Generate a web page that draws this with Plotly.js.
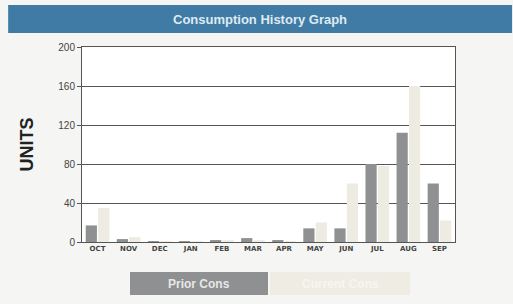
<!DOCTYPE html>
<html>
<head>
<meta charset="utf-8">
<script src="https://cdn.plot.ly/plotly-3.0.1.min.js"></script>
<style>html,body{margin:0;padding:0;background:#f5f5f3;}#chart{width:513px;height:304px;}</style>
</head>
<body>
<div id="chart"></div>
<script>
const months = ["OCT","NOV","DEC","JAN","FEB","MAR","APR","MAY","JUN","JUL","AUG","SEP"];
const priorCons = [17, 3, 1, 1, 2, 4, 2, 14, 14, 80, 112, 60];
const currentCons = [35, 5, 1, 1, 2, 2, 1, 20, 60, 78, 160, 22];
const yTicks = [0, 40, 80, 120, 160, 200];

const traces = [
  {type:'bar', name:'Prior Cons', x:months, y:priorCons, marker:{color:'#8e9091'}},
  {type:'bar', name:'Current Cons', x:months, y:currentCons, marker:{color:'#eeebe3'}}
];

const layout = {
  width:513, height:304,
  margin:{l:82, r:58, t:47, b:62},
  paper_bgcolor:'#f5f5f3', plot_bgcolor:'#ffffff',
  showlegend:false,
  barmode:'group', bargap:0.2, bargroupgap:0.1,
  font:{family:'Liberation Sans, Arial, sans-serif', color:'#333'},
  xaxis:{
    type:'category', showgrid:false, zeroline:false,
    showline:true, linecolor:'#555', linewidth:1, mirror:true,
    tickfont:{size:7, color:'#444', family:'DejaVu Sans, sans-serif', weight:'bold'},
    ticks:'', ticklen:0
  },
  yaxis:{
    range:[0,200], tickvals:yTicks, ticktext:yTicks.map(String),
    showgrid:true, gridcolor:'#555', gridwidth:1, zeroline:false,
    showline:true, linecolor:'#555', linewidth:1, mirror:true,
    tickfont:{size:10, color:'#444'},
    ticks:'outside', ticklen:4, tickcolor:'#555',
    title:{text:'UNITS', font:{size:18, color:'#222', family:'Liberation Sans, Arial, sans-serif', weight:'bold'}, standoff:20}
  },
  shapes:[
    {type:'rect', xref:'paper', yref:'paper', x0:-0.198, x1:1.153, y0:1.072, y1:1.215,
     fillcolor:'#3f7ba5', line:{width:0}, layer:'below'},
    {type:'rect', xref:'paper', yref:'paper', x0:(130-82)/373, x1:(268-82)/373, y0:(242-295)/195, y1:(242-272)/195,
     fillcolor:'#8e9091', line:{width:0}},
    {type:'rect', xref:'paper', yref:'paper', x0:(270-82)/373, x1:(410-82)/373, y0:(242-295)/195, y1:(242-272)/195,
     fillcolor:'#efece4', line:{width:0}}
  ],
  annotations:[
    {xref:'paper', yref:'paper', x:(260-82)/373, y:(242-19)/195, xanchor:'center', yanchor:'middle',
     text:'<b>Consumption History Graph</b>',
     showarrow:false, font:{size:13, color:'#dfeaf2', family:'Liberation Sans, Arial, sans-serif'}},
    {xref:'paper', yref:'paper', x:(199-82)/373, y:(242-283.5)/195, xanchor:'center', yanchor:'middle',
     text:'<b>Prior Cons</b>',
     showarrow:false, font:{size:12, color:'#e8e8e8'}},
    {xref:'paper', yref:'paper', x:(340-82)/373, y:(242-283.5)/195, xanchor:'center', yanchor:'middle',
     text:'<b>Current Cons</b>',
     showarrow:false, font:{size:12, color:'#f7f5ef'}}
  ]
};

Plotly.newPlot('chart', traces, layout, {displayModeBar:false, staticPlot:true});
</script>
</body>
</html>
